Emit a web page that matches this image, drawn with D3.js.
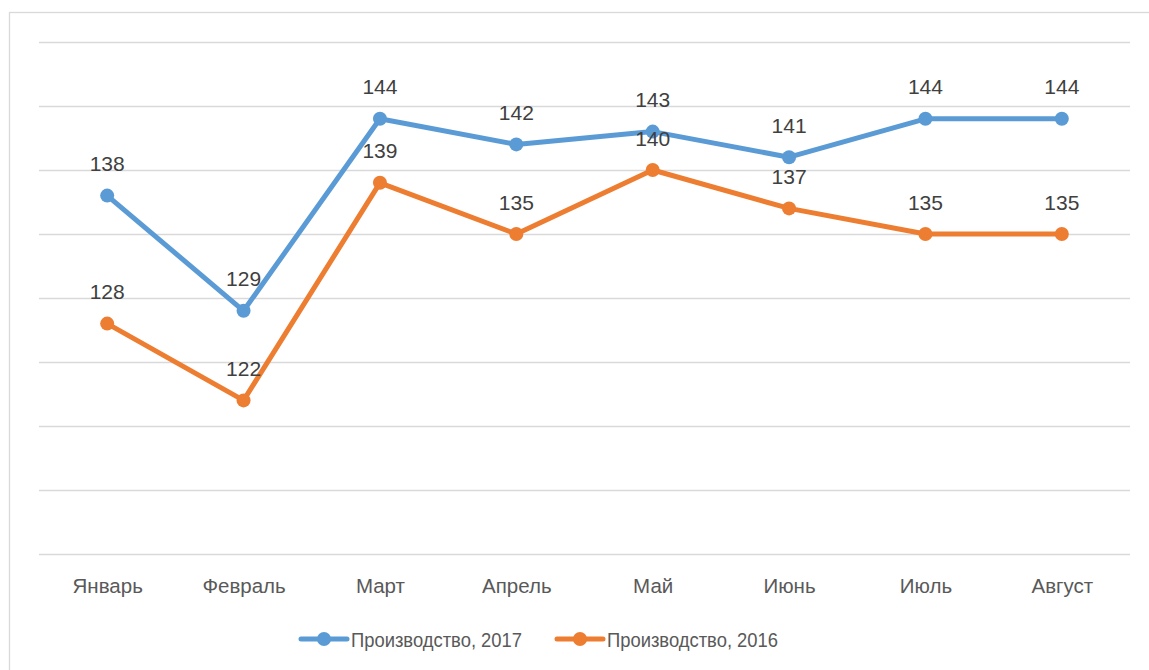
<!DOCTYPE html>
<html>
<head>
<meta charset="utf-8">
<script src="https://cdn.jsdelivr.net/npm/d3@7"></script>
<style>
  html, body { margin: 0; padding: 0; background: #fff; }
  svg { display: block; }
  text { font-family: "Liberation Sans", Arial, sans-serif; }
</style>
</head>
<body>
<svg id="chart" width="1149" height="670"></svg>
<script>
const categories = ["Январь", "Февраль", "Март", "Апрель", "Май", "Июнь", "Июль", "Август"];
const values2017 = [138, 129, 144, 142, 143, 141, 144, 144];
const values2016 = [128, 122, 139, 135, 140, 137, 135, 135];
const seriesNames = ["Производство, 2017", "Производство, 2016"];
const seriesColors = ["#5B9BD5", "#ED7D31"];
const yTicks = [110, 115, 120, 125, 130, 135, 140, 145, 150];

const series = [
  { name: seriesNames[0], values: values2017, color: seriesColors[0] },
  { name: seriesNames[1], values: values2016, color: seriesColors[1] }
];

const svg = d3.select("#chart");

// outer chart border (only left and top visible in the frame)
svg.append("rect")
  .attr("x", 9.5).attr("y", 12.5)
  .attr("width", 1300).attr("height", 800)
  .attr("fill", "#fff")
  .attr("stroke", "#D9D9D9")
  .attr("stroke-width", 1.3);

const x = d3.scalePoint().domain(categories).range([39, 1130]).padding(0.5);
const y = d3.scaleLinear().domain([110, 150]).range([554, 42]);

// gridlines
const grid = svg.append("g")
  .attr("transform", "translate(39,0)")
  .call(d3.axisLeft(y).tickValues(yTicks).tickSize(-(1130 - 39)).tickFormat(""));
grid.select(".domain").remove();
grid.selectAll(".tick line").attr("stroke", "#D9D9D9").attr("stroke-width", 1.5);

// x axis labels
const xAxis = svg.append("g")
  .attr("transform", "translate(0,554)")
  .call(d3.axisBottom(x).tickSize(0).tickPadding(0));
xAxis.select(".domain").remove();
xAxis.selectAll(".tick text")
  .attr("dy", null)
  .attr("y", 38.5)
  .attr("fill", "#595959")
  .style("font-size", "20.5px")
  .style("font-family", "'Liberation Sans', Arial, sans-serif");

const line = d3.line()
  .x((d, i) => x(categories[i]))
  .y(d => y(d));

series.forEach(s => {
  const g = svg.append("g");
  g.append("path")
    .datum(s.values)
    .attr("d", line)
    .attr("fill", "none")
    .attr("stroke", s.color)
    .attr("stroke-width", 5)
    .attr("stroke-linejoin", "round")
    .attr("stroke-linecap", "round");
  g.selectAll("circle")
    .data(s.values)
    .join("circle")
    .attr("cx", (d, i) => x(categories[i]))
    .attr("cy", d => y(d))
    .attr("r", 7)
    .attr("fill", s.color);
});

series.forEach(s => {
  svg.append("g").selectAll("text")
    .data(s.values)
    .join("text")
    .attr("x", (d, i) => x(categories[i]))
    .attr("y", d => y(d) - 24.5)
    .attr("text-anchor", "middle")
    .attr("fill", "#404040")
    .style("font-size", "21px")
    .text(d => d);
});

// legend
const legendItems = [
  { x0: 301, name: seriesNames[0], color: seriesColors[0] },
  { x0: 557, name: seriesNames[1], color: seriesColors[1] }
];
const lg = svg.append("g");
legendItems.forEach(it => {
  lg.append("line")
    .attr("x1", it.x0).attr("x2", it.x0 + 46)
    .attr("y1", 639).attr("y2", 639)
    .attr("stroke", it.color).attr("stroke-width", 5).attr("stroke-linecap", "round");
  lg.append("circle")
    .attr("cx", it.x0 + 23).attr("cy", 639).attr("r", 7).attr("fill", it.color);
  lg.append("text")
    .attr("x", it.x0 + 50).attr("y", 647)
    .attr("fill", "#595959")
    .style("font-size", "21px")
    .attr("textLength", 171)
    .attr("lengthAdjust", "spacingAndGlyphs")
    .text(it.name);
});
</script>
</body>
</html>
